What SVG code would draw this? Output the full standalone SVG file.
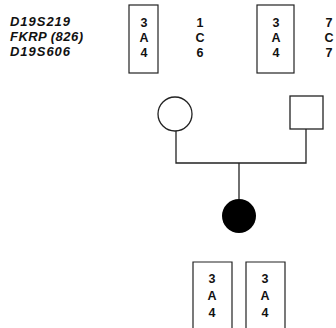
<svg xmlns="http://www.w3.org/2000/svg" width="336" height="328" viewBox="0 0 336 328">
<style>
.lbl{font-family:"Liberation Sans",Arial,sans-serif;font-weight:bold;font-style:italic;font-size:13px;fill:#111}
.al{font-family:"Liberation Sans",Arial,sans-serif;font-weight:bold;font-size:12.5px;fill:#111;text-anchor:middle}
.box{fill:none;stroke:#222;stroke-width:1.2}
.ln{fill:none;stroke:#222;stroke-width:1.3}
</style>
<rect width="336" height="328" fill="#fff"/>
<g id="markers">
<text class="lbl" x="10" y="26" textLength="60">D19S219</text>
<text class="lbl" x="10" y="41" textLength="73">FKRP (826)</text>
<text class="lbl" x="10" y="56" textLength="60">D19S606</text>
</g>
<g id="mother-haplotypes">
<rect class="box" x="129" y="5" width="29" height="68"/>
<text class="al" x="144" y="27">3</text>
<text class="al" x="144" y="42">A</text>
<text class="al" x="144" y="57">4</text>
<text class="al" x="200" y="27">1</text>
<text class="al" x="200" y="42">C</text>
<text class="al" x="200" y="57">6</text>
</g>
<g id="father-haplotypes">
<rect class="box" x="257" y="5" width="37" height="68"/>
<text class="al" x="276" y="27">3</text>
<text class="al" x="276" y="42">A</text>
<text class="al" x="276" y="57">4</text>
<text class="al" x="329" y="27">7</text>
<text class="al" x="329" y="42">C</text>
<text class="al" x="329" y="57">7</text>
</g>
<g id="mother">
<circle class="ln" cx="175" cy="114" r="17"/>
</g>
<g id="father">
<rect class="ln" x="290" y="96" width="33" height="33"/>
</g>
<g id="connectors">
<polyline class="ln" points="176,131 176,163 306,163 306,129"/>
<line class="ln" x1="239" y1="163" x2="239" y2="199"/>
</g>
<g id="child">
<circle cx="239" cy="216" r="17" fill="#000"/>
</g>
<g id="child-haplotypes">
<polyline class="box" points="193,328 193,262 232,262 232,328"/>
<polyline class="box" points="246,328 246,262 285,262 285,328"/>
<text class="al" x="212" y="283">3</text>
<text class="al" x="212" y="300">A</text>
<text class="al" x="212" y="317">4</text>
<text class="al" x="265" y="283">3</text>
<text class="al" x="265" y="300">A</text>
<text class="al" x="265" y="317">4</text>
</g>
</svg>
